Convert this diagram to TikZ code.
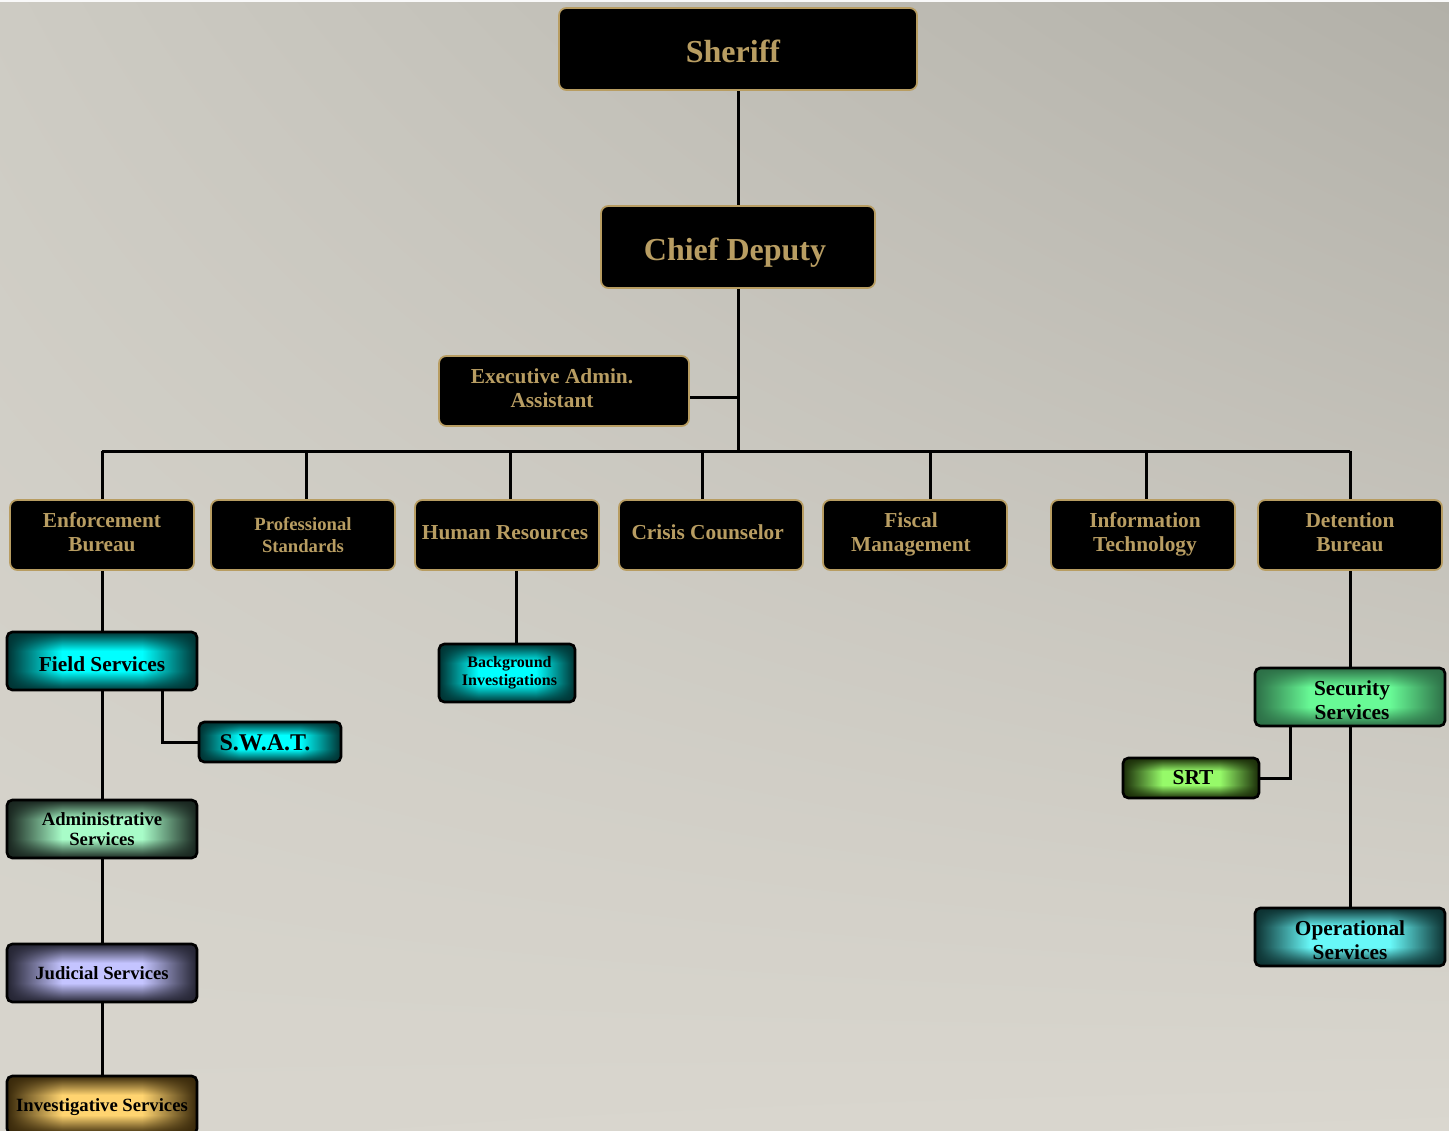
\documentclass[tikz,border=0pt]{standalone}
\usepackage{fontspec}
\setmainfont{Liberation Serif}
\usetikzlibrary{calc,shadings}
\definecolor{gold}{HTML}{B89D62}
\colorlet{glowin}{white}
\colorlet{glowout}{black}
\pgfdeclarefunctionalshading[glowin,glowout]{rglow}{\pgfpoint{-50bp}{-50bp}}{\pgfpoint{50bp}{50bp}}{%
  \pgfshadecolortorgb{glowin}{\ci}%
  \pgfshadecolortorgb{glowout}{\co}%
  \pgfmathsetmacro\gdr{\cored-\cired}%
  \pgfmathsetmacro\gdg{\cogreen-\cigreen}%
  \pgfmathsetmacro\gdb{\coblue-\ciblue}%
}{%
  abs 25 div 0.35 sub 0.65 div dup 0 lt {pop 0} if dup 1 gt {pop 1} if
  1 exch sub
  exch abs 25 div 0.42 sub 0.58 div dup 0 lt {pop 0} if dup 1 gt {pop 1} if
  1 exch sub mul
  1 exch sub
  dup dup
  \gdr\space mul \cired\space add
  3 1 roll
  \gdg\space mul \cigreen\space add
  exch
  \gdb\space mul \ciblue\space add
}
\pgfdeclarelayer{bgl}
\pgfdeclarelayer{lines}
\pgfsetlayers{bgl,lines,main}
\begin{document}
\begin{tikzpicture}[x=0.75pt,y=-0.75pt,
  sz/.style 2 args={minimum width={#1*0.75pt}, minimum height={#2*0.75pt}},
  fs/.style 2 args={font=\bfseries\fontsize{#1}{#2}\selectfont},
  blk/.style={draw=gold, fill=black, line width=1.3pt, rounded corners=5.5pt, inner sep=0pt},
  gt/.style={text=gold, align=center, inner sep=0pt, fs={16}{18}},
  kt/.style={text=black, align=center, inner sep=0pt, fs={16}{18}},
  glow/.style 2 args={shade, shading=rglow, /utils/exec={\colorlet{glowin}{#1}\colorlet{glowout}{#2}}, draw=black, line width=2pt, rounded corners=4pt, inner sep=0pt},
  conn/.style={line width=2.25pt, black}]
\useasboundingbox (0,0) rectangle (1449,1131);
\begin{pgfonlayer}{bgl}
\shade[upper left={rgb,255:red,205;green,203;blue,195}, upper right={rgb,255:red,178;green,176;blue,168}, lower left={rgb,255:red,216;green,213;blue,205}, lower right={rgb,255:red,218;green,215;blue,207}] (0,0) rectangle (1449,1131);
\fill[white!95!gray] (0,0) rectangle (1449,2.5);
\end{pgfonlayer}

% top
\node[blk, sz={358}{82}, label={[gt, fs={24}{28}, xshift=-3.75pt, yshift=-2pt]center:Sheriff}] (sheriff) at (738,49) {};
\node[blk, sz={274}{82}, label={[gt, fs={24}{28}, xshift=-2.25pt, yshift=-4.5pt]center:Chief Deputy}] (chief) at (738,247) {};
\node[blk, sz={250}{70}, label={[gt, xshift=-9pt, yshift=2.25pt]center:Executive Admin.\\Assistant}] (exec) at (564,391) {};

% row
\node[blk, sz={184}{70}, label={[gt, yshift=2.25pt]center:Enforcement\\Bureau}] (enf) at (102,535) {};
\node[blk, sz={184}{70}, label={[gt, fs={14}{16}]center:Professional\\Standards}] (prof) at (303,535) {};
\node[blk, sz={184}{70}, label={[gt, xshift=-1.5pt, yshift=1.5pt]center:Human Resources}] (hr) at (507,535) {};
\node[blk, sz={184}{70}, label={[gt, xshift=-2.5pt, yshift=2.25pt]center:Crisis Counselor}] (crisis) at (711,535) {};
\node[blk, sz={184}{70}, label={[gt, xshift=-3pt, yshift=0.75pt]center:Fiscal\\Management}] (fiscal) at (915,535) {};
\node[blk, sz={184}{70}, label={[gt, xshift=1.5pt, yshift=0.75pt]center:Information\\Technology}] (it) at (1143,535) {};
\node[blk, sz={184}{70}, label={[gt, yshift=2.25pt]center:Detention\\Bureau}] (det) at (1350,535) {};

% left column
\node[glow={rgb,255:red,0;green,255;blue,255}{rgb,255:red,0;green,50;blue,50}, sz={190}{58}, label={[kt, yshift=-2.25pt]center:Field Services}] (field) at (102,661) {};
\node[glow={rgb,255:red,0;green,255;blue,255}{rgb,255:red,0;green,50;blue,50}, sz={142}{40}, label={[kt, fs={18}{20}, xshift=-3.75pt, yshift=-0.75pt]center:S.W.A.T.}] (swat) at (270,742) {};
\node[glow={rgb,255:red,168;green,252;blue,200}{rgb,255:red,24;green,36;blue,30}, sz={190}{58}, label={[kt, fs={14}{15.5}]center:Administrative\\Services}] (admin) at (102,829) {};
\node[glow={rgb,255:red,196;green,196;blue,255}{rgb,255:red,36;green,36;blue,50}, sz={190}{58}, label={[kt, fs={14}{16}]center:Judicial Services}] (jud) at (102,973) {};
\node[glow={rgb,255:red,255;green,212;blue,112}{rgb,255:red,56;green,40;blue,10}, sz={190}{58}, label={[kt, fs={14}{16}, yshift=-1.5pt]center:Investigative Services}] (inv) at (102,1105) {};

% hr child
\node[glow={rgb,255:red,0;green,255;blue,255}{rgb,255:red,0;green,50;blue,50}, sz={136}{58}, label={[kt, fs={12}{13.5}, xshift=1.9pt]center:Background\\Investigations}] (bi) at (507,673) {};

% right column
\node[glow={rgb,255:red,104;green,250;blue,150}{rgb,255:red,44;green,110;blue,70}, sz={190}{58}, label={[kt, xshift=1.5pt, yshift=-2.25pt]center:Security\\Services}] (sec) at (1350,697) {};
\node[glow={rgb,255:red,150;green,250;blue,105}{rgb,255:red,26;green,44;blue,8}, sz={136}{40}, label={[kt, xshift=1.5pt]center:SRT}] (srt) at (1191,778) {};
\node[glow={rgb,255:red,104;green,248;blue,248}{rgb,255:red,12;green,48;blue,48}, sz={190}{58}, label={[kt, yshift=-2.25pt]center:Operational\\Services}] (oper) at (1350,937) {};

\coordinate (busL) at (102,451);
\coordinate (busR) at (1350,451);

\begin{pgfonlayer}{lines}
\draw[conn] (sheriff.south) -- (chief.north);
\draw[conn] (chief.south) -- (chief.south |- busL);
\draw[conn] ([yshift=-4.5pt]exec.east) -- ([yshift=-4.5pt]exec.east -| chief.south);
\draw[conn] (busL) -- (busR);
\draw[conn] (enf.north) -- (enf.north |- busL);
\draw[conn] ([xshift=2.25pt]prof.north) -- ([xshift=2.25pt]prof.north |- busL);
\draw[conn] ([xshift=2.25pt]hr.north) -- ([xshift=2.25pt]hr.north |- busL);
\draw[conn] ([xshift=-6.75pt]crisis.north) -- ([xshift=-6.75pt]crisis.north |- busL);
\draw[conn] ([xshift=11.25pt]fiscal.north) -- ([xshift=11.25pt]fiscal.north |- busL);
\draw[conn] ([xshift=2.25pt]it.north) -- ([xshift=2.25pt]it.north |- busL);
\draw[conn] (det.north) -- (det.north |- busL);
\draw[conn] (enf.south) -- (field.north);
\draw[conn] ([xshift=45pt]field.south) |- (swat.west);
\draw[conn] (field.south) -- (admin.north);
\draw[conn] (admin.south) -- (jud.north);
\draw[conn] (jud.south) -- (inv.north);
\draw[conn] ([xshift=6.75pt]hr.south) -- ([xshift=6.75pt]hr.south |- bi.north);
\draw[conn] (det.south) -- (sec.north);
\draw[conn] ([xshift=-45pt]sec.south) |- (srt.east);
\draw[conn] (sec.south) -- (oper.north);
\end{pgfonlayer}
\end{tikzpicture}
\end{document}
